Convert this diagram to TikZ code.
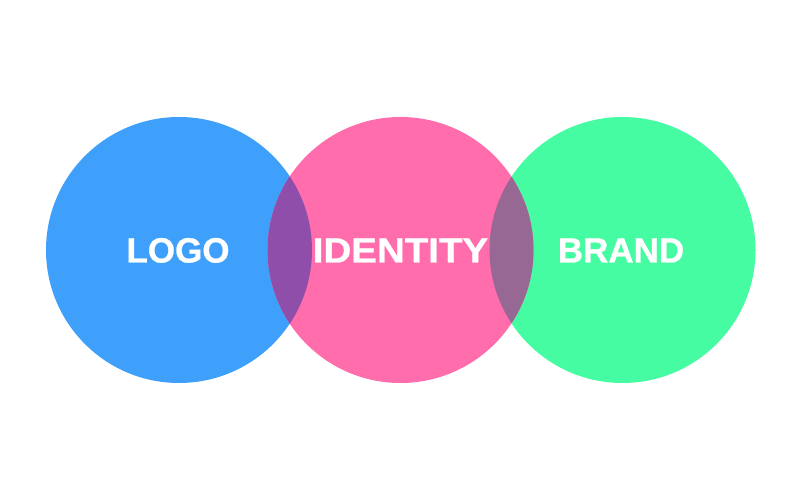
\documentclass[tikz,border=0pt]{standalone}
\usepackage{fontspec}
\setmainfont{Liberation Sans}[BoldFeatures={FakeBold=0.8}]
\definecolor{cblue}{HTML}{3FA0FB}
\definecolor{cpink}{HTML}{FF6DAD}
\definecolor{cgreen}{HTML}{45FCA2}
\definecolor{cbp}{HTML}{8F4EAA}
\definecolor{cpg}{HTML}{976894}
\tikzset{
  lbl/.style={text=white, font=\fontsize{35}{40}\selectfont\bfseries, inner sep=0pt, anchor=base},
}
\begin{document}
\begin{tikzpicture}[x=1pt,y=1pt]
\useasboundingbox (0,0) rectangle (800,500);
\fill[white] (0,0) rectangle (800,500);
\fill[cblue] (179,250) circle (133);
\fill[cgreen] (622.5,250) circle (133);
\fill[cpink] (400.5,250) circle (133);
\begin{scope}
  \clip (179,250) circle (133);
  \fill[cbp] (400.5,250) circle (133);
\end{scope}
\begin{scope}
  \clip (622.5,250) circle (133);
  \fill[cpg] (400.5,250) circle (133);
\end{scope}
\node[lbl] (logo) at (178,237.5) {LOGO};
\node[lbl, xscale=1.1] (identity) at (400.5,237.5) {IDENTITY};
\node[lbl] (brand) at (621,237.5) {BRAND};
\end{tikzpicture}
\end{document}
